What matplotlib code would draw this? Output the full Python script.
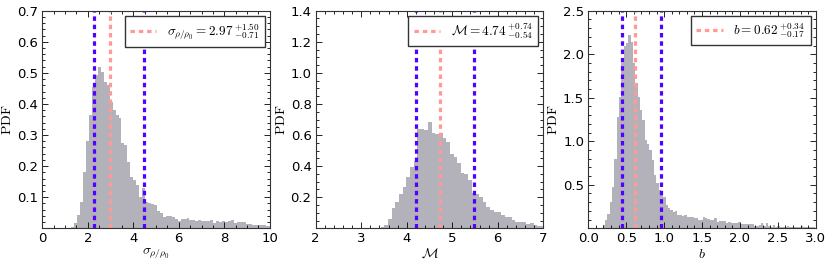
import numpy as np
import matplotlib
matplotlib.use("Agg")
import matplotlib.pyplot as plt
from matplotlib.ticker import AutoMinorLocator

plt.rcParams['mathtext.fontset'] = 'cm'
plt.rcParams['font.family'] = ['DejaVu Sans']

# ---- Panel 1: sigma_{rho/rho0} ----
sig_start, sig_width = 1.27, 0.13
sig_heights = [0.005, 0.018, 0.043, 0.086, 0.182, 0.282, 0.364, 0.455, 0.493, 0.52,
               0.504, 0.472, 0.46, 0.407, 0.38, 0.364, 0.354, 0.273, 0.268, 0.214,
               0.166, 0.155, 0.139, 0.10, 0.13, 0.085, 0.08, 0.077, 0.075, 0.055,
               0.05, 0.037, 0.038, 0.038, 0.037, 0.03, 0.023, 0.03, 0.03, 0.033,
               0.026, 0.026, 0.024, 0.026, 0.025, 0.023, 0.023, 0.028, 0.018, 0.022,
               0.021, 0.022, 0.020, 0.022, 0.028, 0.018, 0.02, 0.019, 0.02, 0.015,
               0.014, 0.012, 0.012, 0.012, 0.011, 0.01, 0.009, 0.009]
sig_med, sig_up, sig_lo = 2.97, 1.50, 0.71

# ---- Panel 2: Mach number ----
mach_start, mach_width = 3.43, 0.08
mach_heights = [0.01, 0.02, 0.058, 0.129, 0.17, 0.22, 0.268, 0.332, 0.396, 0.435,
                0.637, 0.637, 0.63, 0.682, 0.615, 0.607, 0.612, 0.58, 0.557, 0.48,
                0.46, 0.42, 0.358, 0.35, 0.31, 0.23, 0.22, 0.2, 0.172, 0.14,
                0.12, 0.107, 0.107, 0.086, 0.075, 0.075, 0.054, 0.043, 0.043, 0.043,
                0.028, 0.036, 0.021, 0.015, 0.015]
mach_med, mach_up, mach_lo = 4.74, 0.74, 0.54

# ---- Panel 3: b ----
b_start, b_width = 0.19, 0.0307
b_heights = [0.038, 0.095, 0.17, 0.306, 0.48, 0.80, 1.28, 1.51, 1.90, 2.09,
             2.13, 2.22, 2.14, 1.90, 1.67, 1.51, 1.36, 1.24, 1.01, 0.97,
             0.90, 0.78, 0.61, 0.52, 0.44, 0.38, 0.36, 0.27, 0.23, 0.21,
             0.19, 0.20, 0.15, 0.15, 0.14, 0.15, 0.13, 0.13, 0.13, 0.12,
             0.12, 0.10, 0.10, 0.13, 0.12, 0.11, 0.10, 0.10, 0.12, 0.076,
             0.08, 0.08, 0.08, 0.058, 0.07, 0.066, 0.065, 0.065, 0.07, 0.05,
             0.05, 0.05, 0.048, 0.05, 0.05, 0.03, 0.03, 0.04, 0.058, 0.025,
             0.06, 0.025, 0.02, 0.04, 0.02, 0.022, 0.02, 0.018, 0.02, 0.022,
             0.02, 0.018, 0.02, 0.02, 0.018, 0.022, 0.02, 0.018, 0.02, 0.02, 0.018]
b_med, b_up, b_lo = 0.62, 0.34, 0.17

panels = [
    dict(start=sig_start, width=sig_width, heights=sig_heights, med=sig_med, up=sig_up, lo=sig_lo,
         xlim=(0, 10), ylim=(0, 0.7), xticks=[0, 2, 4, 6, 8, 10],
         yticks=[0.1, 0.2, 0.3, 0.4, 0.5, 0.6, 0.7],
         xlabel=r'$\sigma_{\rho/\rho_0}$', name=r'\sigma_{\rho/\rho_0}'),
    dict(start=mach_start, width=mach_width, heights=mach_heights, med=mach_med, up=mach_up, lo=mach_lo,
         xlim=(2, 7), ylim=(0, 1.4), xticks=[2, 3, 4, 5, 6, 7],
         yticks=[0.2, 0.4, 0.6, 0.8, 1.0, 1.2, 1.4],
         xlabel=r'$\mathcal{M}$', name=r'\mathcal{M}'),
    dict(start=b_start, width=b_width, heights=b_heights, med=b_med, up=b_up, lo=b_lo,
         xlim=(0, 3), ylim=(0, 2.5), xticks=[0.0, 0.5, 1.0, 1.5, 2.0, 2.5, 3.0],
         yticks=[0.5, 1.0, 1.5, 2.0, 2.5],
         xlabel=r'$b$', name=r'b'),
]

W, H = 831, 263
fig = plt.figure(figsize=(W / 100, H / 100), dpi=100)
lefts = [42.3, 315.7, 588.3]
axw = 227.5
bottom = (H - 228.3) / H
height = 217.6 / H

hist_color = '#b3b2ba'
blue = '#5200ff'
red = '#ff9a96'
ls = (0, (1.4, 1.2))

for left, p in zip(lefts, panels):
    ax = fig.add_axes([left / W, bottom, axw / W, height])
    n = len(p['heights'])
    edges = p['start'] + p['width'] * np.arange(n + 1)
    ax.stairs(p['heights'], edges, fill=True, color=hist_color, lw=0)
    med, up, lo = p['med'], p['up'], p['lo']
    ax.axvline(med - lo, color=blue, lw=2.3, ls=ls)
    ax.axvline(med + up, color=blue, lw=2.3, ls=ls)
    lab = r'$%s = %.2f\,^{+%.2f}_{-%.2f}$' % (p['name'], med, up, lo)
    ax.axvline(med, color=red, lw=2.3, ls=ls, label=lab)
    ax.set_xlim(*p['xlim'])
    ax.set_ylim(*p['ylim'])
    ax.set_xticks(p['xticks'])
    ax.set_yticks(p['yticks'])
    ax.xaxis.set_minor_locator(AutoMinorLocator())
    ax.yaxis.set_minor_locator(AutoMinorLocator())
    ax.tick_params(which='both', direction='in', top=True, right=True, labelsize=9.5, width=0.6)
    ax.tick_params(which='major', length=4, pad=3)
    ax.tick_params(which='minor', length=2)
    for s in ax.spines.values():
        s.set_linewidth(0.8)
        s.set_color('#333333')
    ax.set_xlabel(p['xlabel'], fontsize=10, labelpad=1)
    ax.set_ylabel(r'$\mathrm{PDF}$', fontsize=10, labelpad=2)
    leg = ax.legend(loc='upper right', fontsize=9.5, fancybox=False, framealpha=1,
                    handlelength=2.0, borderaxespad=0.4, borderpad=0.4)
    leg.get_frame().set_edgecolor('#333333')
    leg.get_frame().set_linewidth(1.0)

fig.savefig('out.png', dpi=100)
